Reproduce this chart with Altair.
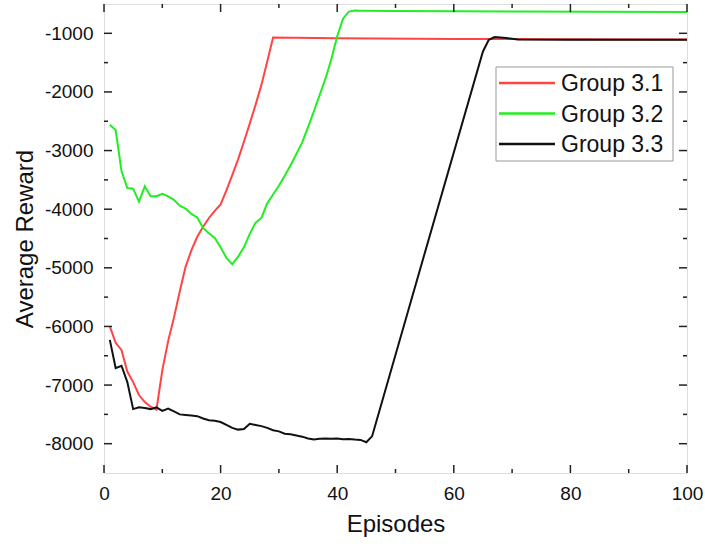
import altair as alt
import pandas as pd

# ---- data ----
series_names = ["Group 3.1", "Group 3.2", "Group 3.3"]
series_colors = ["#FF4444", "#22EE22", "#111111"]

red_x = [1, 2, 3, 4, 5, 6, 7, 8, 9, 10, 11, 12, 13, 14, 15, 16, 17, 18, 19, 20,
         21, 22, 23, 24, 25, 26, 27, 28, 29, 40, 60, 80, 100]
red_y = [-6000, -6280, -6400, -6770, -6950, -7170, -7290, -7370, -7420, -6750,
         -6250, -5850, -5400, -4980, -4700, -4470, -4300, -4150, -4030, -3920,
         -3680, -3420, -3150, -2850, -2540, -2220, -1880, -1480, -1070,
         -1085, -1095, -1100, -1105]

green_x = [1, 2, 3, 4, 5, 6, 7, 8, 9, 10, 11, 12, 13, 14, 15, 16, 17, 18, 19, 20,
           21, 22, 23, 24, 25, 26, 27, 28, 29, 30, 31, 32, 33, 34, 35, 36, 37, 38,
           39, 40, 41, 42, 43, 44, 50, 70, 100]
green_y = [-2560, -2650, -3350, -3640, -3650, -3870, -3610, -3780, -3780, -3740,
           -3780, -3840, -3940, -3990, -4080, -4140, -4320, -4410, -4490, -4650,
           -4830, -4940, -4810, -4650, -4420, -4230, -4150, -3900, -3750, -3600,
           -3430, -3250, -3060, -2860, -2600, -2330, -2050, -1770, -1440, -1050,
           -750, -630, -612, -615, -620, -628, -637]

black_x = [1, 2, 3, 4, 5, 6, 7, 8, 9, 10, 11, 12, 13, 14, 15, 16, 17, 18, 19, 20,
           21, 22, 23, 24, 25, 26, 27, 28, 29, 30, 31, 32, 33, 34, 35, 36, 37, 38,
           39, 40, 41, 42, 43, 44, 45, 46, 54, 65, 66, 67, 69, 71, 80, 100]
black_y = [-6230, -6710, -6670, -6950, -7410, -7380, -7390, -7410, -7380, -7440,
           -7400, -7450, -7500, -7510, -7520, -7530, -7570, -7600, -7610, -7630,
           -7680, -7730, -7760, -7750, -7660, -7680, -7700, -7730, -7770, -7790,
           -7830, -7840, -7860, -7880, -7910, -7930, -7915, -7910, -7915, -7910,
           -7925, -7920, -7930, -7935, -7975, -7870, -5100, -1310, -1110, -1063,
           -1080, -1105, -1110, -1110]

x_major = [0, 20, 40, 60, 80, 100]
x_minor = [10, 30, 50, 70, 90]
y_major = [-8000, -7000, -6000, -5000, -4000, -3000, -2000, -1000]
y_minor = [-7500, -6500, -5500, -4500, -3500, -2500, -1500]

# ---- tables ----
rows = []
for name, xs, ys in zip(series_names, [red_x, green_x, black_x], [red_y, green_y, black_y]):
    for xv, yv in zip(xs, ys):
        rows.append({"series": name, "episode": xv, "reward": yv})
df = pd.DataFrame(rows)

legend_df = pd.DataFrame({"series": series_names, "row": list(range(len(series_names)))})

W, H = 583, 469
FONT = "Liberation Sans"

xscale = alt.Scale(domain=[0, 100], nice=False, zero=False)
yscale = alt.Scale(domain=[-8500, -500], nice=False, zero=False)
cscale = alt.Scale(domain=series_names, range=series_colors)

lines = alt.Chart(df).mark_line(strokeWidth=2).encode(
    x=alt.X("episode:Q", scale=xscale,
            axis=alt.Axis(title="Episodes", values=x_major, ticks=False, domain=False,
                          grid=False, labelFontSize=19, labelFont=FONT, labelColor="#111",
                          labelPadding=11, labelFlush=False, labelBound=False,
                          titleFontSize=24, titleFont=FONT, titleFontWeight="normal",
                          titleColor="#111", titlePadding=9,
                          labelExpr="'' + datum.value")),
    y=alt.Y("reward:Q", scale=yscale,
            axis=alt.Axis(title="Average Reward", values=y_major, ticks=False, domain=False,
                          grid=False, labelFontSize=19, labelFont=FONT, labelColor="#111",
                          labelPadding=11, labelFlush=False, labelBound=False,
                          titleFontSize=24, titleFont=FONT, titleFontWeight="normal",
                          titleColor="#111", titlePadding=7,
                          labelExpr="'' + datum.value")),
    color=alt.Color("series:N", scale=cscale, legend=None),
    detail="series:N",
)

def xticks(vals, length):
    d = pd.DataFrame({"v": vals})
    bottom = alt.Chart(d).mark_rule(color="#222", strokeWidth=1.5).encode(
        x=alt.X("v:Q", scale=xscale), y=alt.value(H), y2=alt.value(H - length))
    top = alt.Chart(d).mark_rule(color="#222", strokeWidth=1.5).encode(
        x=alt.X("v:Q", scale=xscale), y=alt.value(0), y2=alt.value(length))
    return [bottom, top]

def yticks(vals, length):
    d = pd.DataFrame({"v": vals})
    left = alt.Chart(d).mark_rule(color="#222", strokeWidth=1.5).encode(
        y=alt.Y("v:Q", scale=yscale), x=alt.value(0), x2=alt.value(length))
    right = alt.Chart(d).mark_rule(color="#222", strokeWidth=1.5).encode(
        y=alt.Y("v:Q", scale=yscale), x=alt.value(W), x2=alt.value(W - length))
    return [left, right]

tick_layers = xticks(x_major, 8) + xticks(x_minor, 4) + yticks(y_major, 8) + yticks(y_minor, 4)

# ---- legend (drawn by hand) ----
legend_box = alt.Chart(legend_df).transform_filter("datum.row == 0").mark_rect(
    fill="white", stroke="#999", strokeWidth=1).encode(
    x=alt.value(392), x2=alt.value(569), y=alt.value(63), y2=alt.value(157))

legend_base = alt.Chart(legend_df).transform_calculate(py="79 + 30.5 * datum.row")
legend_lines = legend_base.mark_rule(strokeWidth=2.5).encode(
    x=alt.value(395), x2=alt.value(451),
    y=alt.Y("py:Q", scale=None),
    color=alt.Color("series:N", scale=cscale, legend=None))
legend_text = legend_base.mark_text(align="left", baseline="middle", fontSize=23,
                                    font=FONT, color="#111", dy=1).encode(
    x=alt.value(457), y=alt.Y("py:Q", scale=None), text="series:N")

chart = alt.layer(lines, *tick_layers, legend_box, legend_lines, legend_text).properties(
    width=W, height=H,
    padding={"left": 104, "top": 4, "right": 18, "bottom": 75},
    autosize="none",
).configure_view(stroke="#222", strokeWidth=2).configure(background="white")

chart.save("out.html", embed_options={"renderer": "svg", "actions": False})
